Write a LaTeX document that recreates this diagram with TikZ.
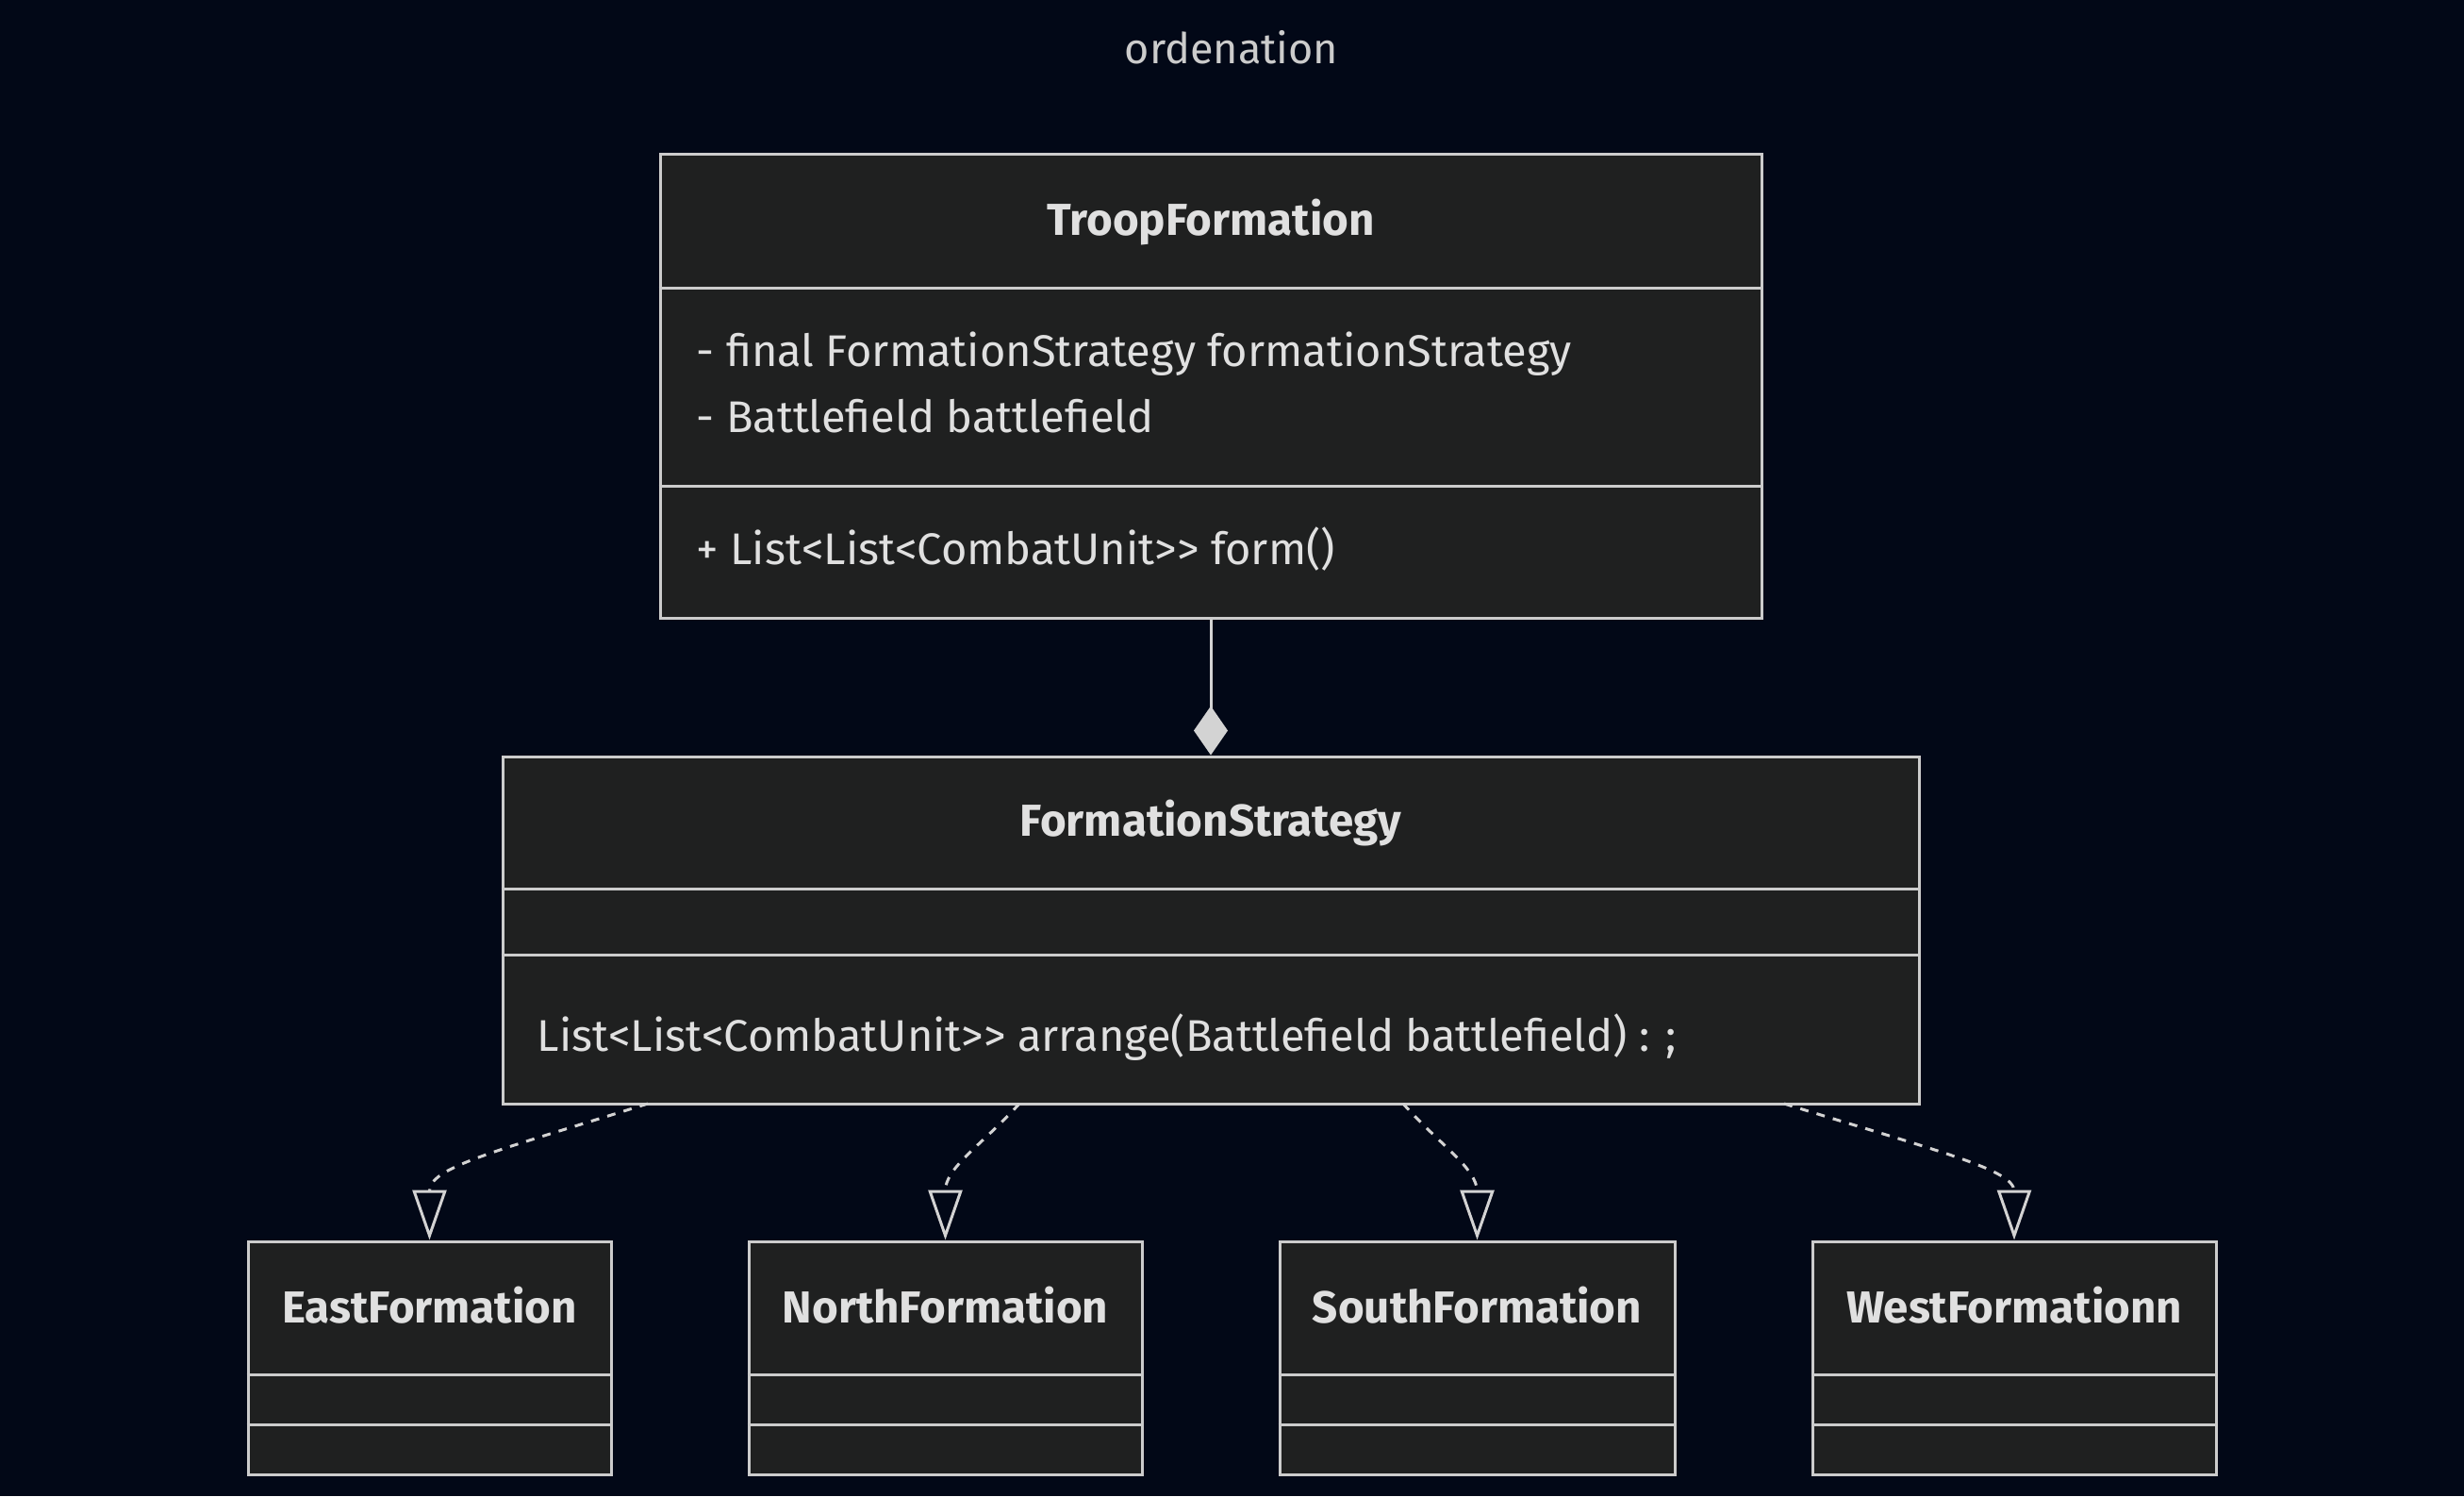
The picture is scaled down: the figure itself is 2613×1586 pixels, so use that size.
\documentclass[tikz,border=0pt]{standalone}
\usepackage{fontspec}
\setmainfont{Fira Sans}
\usetikzlibrary{arrows.meta,fit,calc}
\definecolor{bg}{HTML}{020817}
\definecolor{boxfill}{HTML}{1F2020}
\definecolor{boxline}{HTML}{CCCCCC}
\definecolor{txtcol}{HTML}{E0E0E0}
\definecolor{linecol}{HTML}{D3D3D3}
\definecolor{titlecol}{HTML}{CCCCCC}
\tikzset{
  umlbox/.style={draw=boxline, fill=boxfill, line width=0.9pt, inner sep=0pt},
  divider/.style={draw=boxline, line width=0.9pt},
  txt/.style={text=txtcol, inner sep=0pt, font=\fontsize{14.1}{17}\selectfont},
  ttl/.style={text=txtcol, inner sep=0pt, font=\fontsize{14.25}{17}\selectfont\bfseries},
  titletxt/.style={text=titlecol, inner sep=0pt, font=\fontsize{13.5}{16}\selectfont},
  realize/.style={draw=linecol, line width=0.9pt, dash pattern=on 2.7pt off 2.7pt,
    -{Triangle[open, length=15.9pt, width=10.8pt]}},
  compose/.style={draw=linecol, line width=0.9pt,
    -{Diamond[length=15.6pt, width=10.8pt, fill=linecol]}}
}
\begin{document}
\begin{tikzpicture}[x=0.3pt,y=-0.3pt]
\fill[bg] (0,0) rectangle (2613,1586);
\useasboundingbox (0,0) rectangle (2613,1586);

\node[titletxt, anchor=base] (title) at (1306,67) {ordenation};

% TroopFormation
\node[umlbox, fit={(700,163) (1868,655)}] (tf) {};
\draw[divider] (tf.west |- 0,305) -- (tf.east |- 0,305);
\draw[divider] (tf.west |- 0,515) -- (tf.east |- 0,515);
\node[ttl, anchor=base] (tfname) at (1284,249) {TroopFormation};
\node[txt, anchor=base west] (tfa1) at (738,388) {- final FormationStrategy formationStrategy};
\node[txt, anchor=base west] (tfa2) at (738,458) {- Battlefield battlefield};
\node[txt, anchor=base west] (tfm1) at (738,598) {+ List<List<CombatUnit>\kern0pt> form()};

% FormationStrategy
\node[umlbox, fit={(533,802) (2035,1170)}] (fs) {};
\draw[divider] (fs.west |- 0,942) -- (fs.east |- 0,942);
\draw[divider] (fs.west |- 0,1012) -- (fs.east |- 0,1012);
\node[ttl, anchor=base] (fsname) at (1284,886) {FormationStrategy};
\node[txt, anchor=base west] (fsm1) at (569,1114) {List<List<CombatUnit>\kern0pt> arrange(Battlefield battlefield) : ;};

% bottom classes
\node[umlbox, fit={(263,1316) (648,1563)}] (east) {};
\node[umlbox, fit={(794,1316) (1211,1563)}] (north) {};
\node[umlbox, fit={(1357,1316) (1776,1563)}] (south) {};
\node[umlbox, fit={(1922,1316) (2350,1563)}] (west) {};
\foreach \b in {east,north,south,west}{
  \draw[divider] (\b.west |- 0,1457) -- (\b.east |- 0,1457);
  \draw[divider] (\b.west |- 0,1510) -- (\b.east |- 0,1510);
}
\node[ttl, anchor=base] (eastname) at (east.north |- 0,1402) {EastFormation};
\node[ttl, anchor=base] (northname) at (north.north |- 0,1402) {NorthFormation};
\node[ttl, anchor=base] (southname) at (south.north |- 0,1402) {SouthFormation};
\node[ttl, anchor=base] (westname) at (west.north |- 0,1402) {WestFormationn};

% composition
\draw[compose] (tf.south) -- (fs.north);

% realizations
\coordinate (fsE) at (687,1170);
\coordinate (fsN) at (1081,1170);
\coordinate (fsS) at (1488,1170);
\coordinate (fsW) at (1892,1170);
\draw[realize] (fsE) .. controls (520,1222) and (455,1238) .. (east.north |- 0,1263) -- (east.north);
\draw[realize] (fsN) .. controls (1040,1215) and (1002,1238) .. (north.north |- 0,1263) -- (north.north);
\draw[realize] (fsS) .. controls (1525,1212) and (1566,1238) .. (south.north |- 0,1263) -- (south.north);
\draw[realize] (fsW) .. controls (2060,1222) and (2136,1240) .. (west.north |- 0,1263) -- (west.north);
\end{tikzpicture}
\end{document}
